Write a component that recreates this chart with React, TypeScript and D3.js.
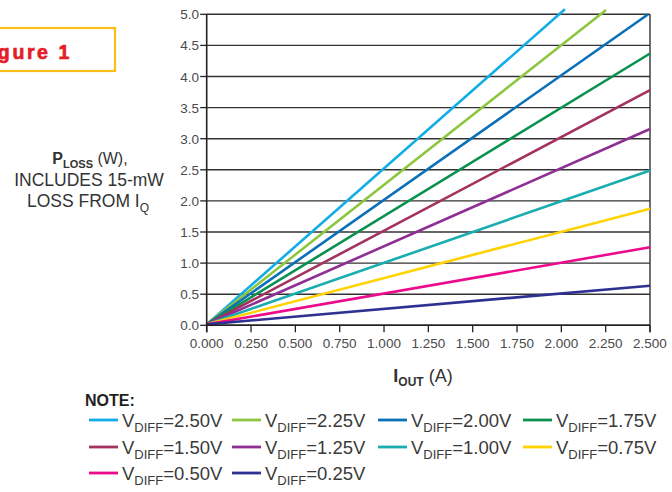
import React from "react";
import * as d3 from "d3";

// ---- data ----
const vdiffLabels = ["2.50", "2.25", "2.00", "1.75", "1.50", "1.25", "1.00", "0.75", "0.50", "0.25"];
const seriesColors = ["#12ade6", "#8cc63f", "#0b70b8", "#0a9150", "#a3325f", "#8e2f93", "#1aadb0", "#ffd200", "#ec0b8c", "#2e3192"];
const startCurrent = [0, 0, 0, 0, 0, 0, 0, 0, 0, 0];
const startLoss = [0.015, 0.015, 0.015, 0.015, 0.015, 0.015, 0.015, 0.015, 0.015, 0.015];
const endCurrent = [2.02, 2.252, 2.49, 2.5, 2.5, 2.5, 2.5, 2.5, 2.5, 2.5];
const endLoss = [5.08, 5.07, 5.0, 4.37, 3.78, 3.155, 2.49, 1.875, 1.255, 0.637];
const xTickValues = [0, 0.25, 0.5, 0.75, 1.0, 1.25, 1.5, 1.75, 2.0, 2.25, 2.5];
const xTickLabels = ["0.000", "0.250", "0.500", "0.750", "1.000", "1.250", "1.500", "1.750", "2.000", "2.250", "2.500"];
const yTickValues = [0, 0.5, 1.0, 1.5, 2.0, 2.5, 3.0, 3.5, 4.0, 4.5, 5.0];
const yTickLabels = ["0.0", "0.5", "1.0", "1.5", "2.0", "2.5", "3.0", "3.5", "4.0", "4.5", "5.0"];

const FONT = "'Liberation Sans', Arial, sans-serif";

export default function App() {
  const W = 672, H = 492;
  const x = d3.scaleLinear().domain([0, 2.5]).range([206.7, 650]);
  const y = d3.scaleLinear().domain([0, 5]).range([325.3, 14.3]);
  const line = d3.line<[number, number]>().x(d => x(d[0])).y(d => y(d[1]));

  const legendCols = [89, 232, 378, 523];
  const legendRows = [420, 447, 473];

  return (
    <svg width={W} height={H} style={{ position: "absolute", left: 0, top: 0, background: "#fff" }} fontFamily={FONT}>
      {/* Figure label */}
      <rect x={-40} y={28} width={155} height={43} fill="#fff" stroke="#fbbd16" strokeWidth={2.2} />
      <text x={72} y={59} textAnchor="end" fill="#e31e26" stroke="#e31e26" strokeWidth={0.7}
        fontWeight="bold" fontSize={19.5} letterSpacing={2.6}>Figure 1</text>

      {/* gridlines */}
      {yTickValues.map((v, i) => (
        <line key={"g" + i} x1={x(0)} x2={x(2.5)} y1={y(v)} y2={y(v)} stroke="#333" strokeWidth={1.4} />
      ))}
      {/* right border */}
      <line x1={x(2.5)} x2={x(2.5)} y1={y(5)} y2={y(0) + 7} stroke="#333" strokeWidth={1.4} />

      {/* series */}
      {vdiffLabels.map((lab, i) => (
        <path key={"s" + i}
          d={line([[startCurrent[i], startLoss[i]], [endCurrent[i], endLoss[i]]]) || ""}
          fill="none" stroke={seriesColors[i]} strokeWidth={2.6} />
      ))}

      {/* axes */}
      <line x1={x(0)} x2={x(0)} y1={y(5)} y2={y(0) + 7} stroke="#222" strokeWidth={1.6} />
      <line x1={x(0)} x2={x(2.5)} y1={y(0)} y2={y(0)} stroke="#222" strokeWidth={1.6} />
      {xTickValues.map((v, i) => (
        <g key={"xt" + i}>
          <line x1={x(v)} x2={x(v)} y1={y(0)} y2={y(0) + 7} stroke="#222" strokeWidth={1.3} />
          <text x={x(v)} y={348} textAnchor="middle" fontSize={13.5} fill="#4a4a4a">{xTickLabels[i]}</text>
        </g>
      ))}
      {yTickValues.map((v, i) => (
        <g key={"yt" + i}>
          <line x1={x(0) - 6.5} x2={x(0)} y1={y(v)} y2={y(v)} stroke="#222" strokeWidth={1.3} />
          <text x={199} y={y(v) + 5} textAnchor="end" fontSize={13.5} fill="#4a4a4a">{yTickLabels[i]}</text>
        </g>
      ))}

      {/* y axis title */}
      <text x={90} y={163.5} textAnchor="middle" fill="#333" fontSize={16}>
        <tspan fontWeight="bold">P</tspan>
        <tspan fontWeight="bold" fontSize={11} dy={4}>LOSS</tspan>
        <tspan dy={-4}> (W),</tspan>
      </text>
      <text x={89} y={186} textAnchor="middle" fill="#333" fontSize={17.5}>INCLUDES 15-mW</text>
      <text x={88} y={207} textAnchor="middle" fill="#333" fontSize={17.5}>
        <tspan>LOSS FROM I</tspan>
        <tspan fontSize={12} dy={5}>Q</tspan>
      </text>

      {/* x axis title */}
      <text x={423} y={382} textAnchor="middle" fill="#333" fontSize={18}>
        <tspan fontWeight="bold">I</tspan>
        <tspan fontWeight="bold" fontSize={12} dy={4}>OUT</tspan>
        <tspan dy={-4}> (A)</tspan>
      </text>

      {/* legend */}
      <text x={85} y={406} fontWeight="bold" fontSize={16} fill="#231f20">NOTE:</text>
      {vdiffLabels.map((lab, i) => {
        const cx = legendCols[i % 4];
        const cy = legendRows[Math.floor(i / 4)];
        return (
          <g key={"l" + i}>
            <line x1={cx} x2={cx + 29} y1={cy} y2={cy} stroke={seriesColors[i]} strokeWidth={2.8} />
            <text x={cx + 33} y={cy + 7} fontSize={18.5} fill="#3a3a3a">
              <tspan>V</tspan>
              <tspan fontSize={13} dy={5}>DIFF</tspan>
              <tspan dy={-5}>={lab}V</tspan>
            </text>
          </g>
        );
      })}
    </svg>
  );
}
